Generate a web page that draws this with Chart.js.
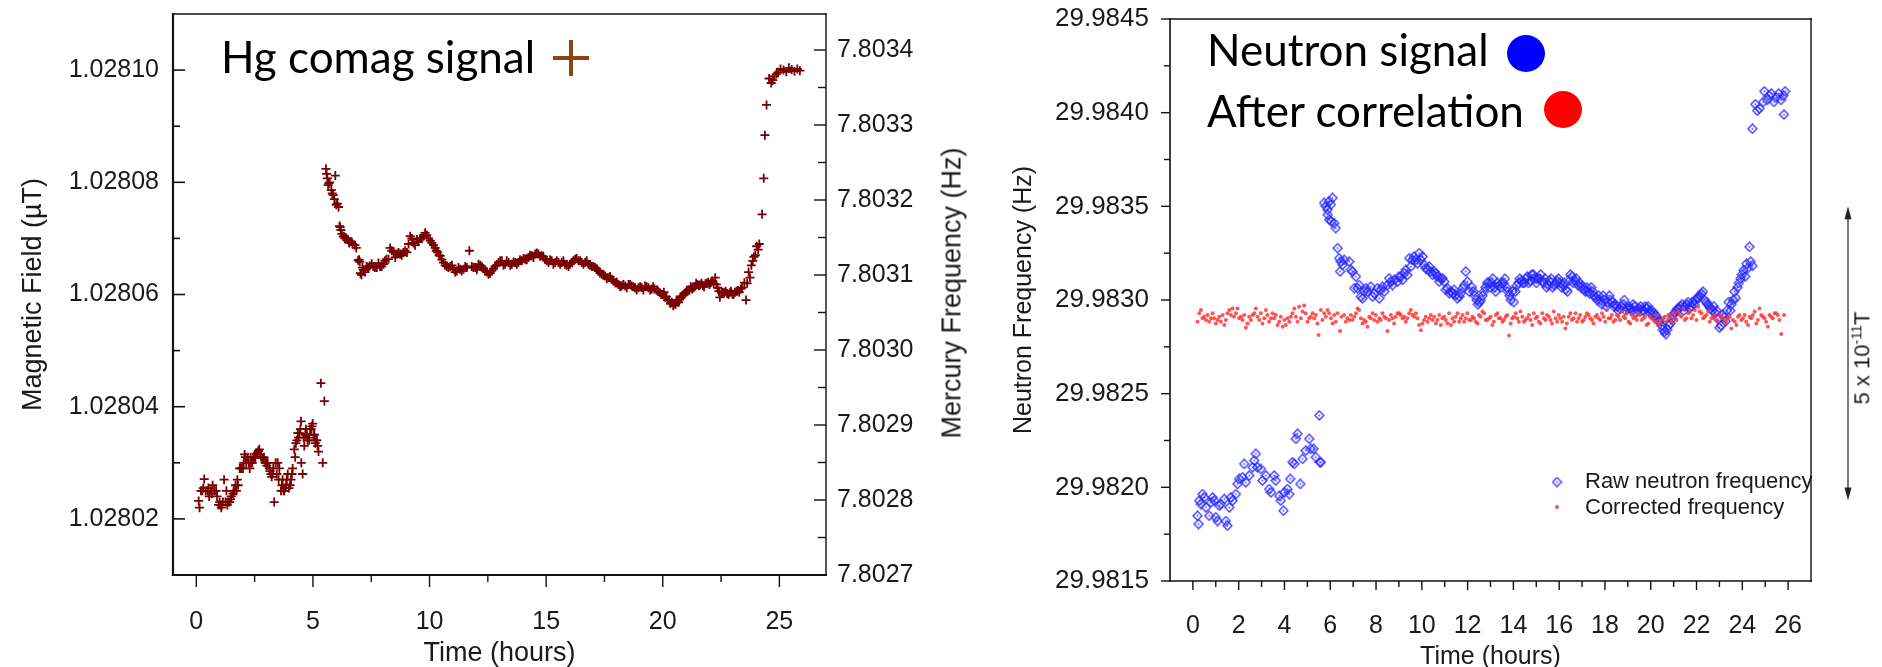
<!DOCTYPE html>
<html>
<head>
<meta charset="utf-8">
<script src="https://cdn.jsdelivr.net/npm/chart.js@4.4.1/dist/chart.umd.min.js"></script>
<style>
  html, body { margin: 0; padding: 0; background: #fff; }
  body { width: 1882px; height: 667px; position: relative; overflow: hidden; }
  canvas { position: absolute; top: 0; }
  .note { position: absolute; font-family: Lato, "Open Sans", sans-serif; font-size: 44px; line-height: 1; color: #000; white-space: nowrap; }
  .vtitle { position: absolute; font-family: "Liberation Sans", Arial, sans-serif; font-size: 27px; color: #1a1a1a; white-space: nowrap; transform: translate(-50%, -50%) rotate(-90deg); }
  .vtitle sup { font-size: 0.65em; }
  .cross { position: absolute; width: 36px; height: 36px; }
  .cross::before, .cross::after { content: ''; position: absolute; background: #8b4513; }
  .cross::before { left: 0; top: 16px; width: 36px; height: 4px; }
  .cross::after { left: 16px; top: 0; width: 4px; height: 36px; }
  .dot { position: absolute; width: 38px; height: 37px; border-radius: 50%; }
</style>
</head>
<body>
<canvas id="hg" width="1000" height="667" style="left:0"></canvas>
<canvas id="nf" width="882" height="667" style="left:1000px"></canvas>
<div class="note" style="left:221px;top:34px">Hg comag signal</div>
<div class="cross" style="left:553px;top:40px"></div>
<div class="note" style="left:1207px;top:27px">Neutron signal</div>
<div class="dot" style="left:1507px;top:35px;background:#0000ff"></div>
<div class="note" style="left:1207px;top:88px">After correlation</div>
<div class="dot" style="left:1544px;top:91px;background:#ff0000"></div>
<div class="vtitle" style="left:952px;top:293px">Mercury Frequency (Hz)</div>
<div class="vtitle" style="left:1862px;top:358px;font-size:22px">5 x 10<sup>-11</sup>T</div>
<script>
// ---- left panel: Hg co-magnetometer ----
const hgTime = [
  0.10, 0.14, 0.26, 0.34, 0.40, 0.48, 0.55, 0.62, 0.70, 0.77, 0.85, 0.89, 1.00, 1.07, 1.14, 1.19, 1.25, 1.29, 1.36, 1.43,
  1.50, 1.57, 1.64, 1.72, 1.79, 1.86, 1.93, 2.00, 2.07, 2.14, 2.20, 2.29, 2.36, 2.45, 2.50, 2.57, 2.66, 2.74, 2.84, 2.90,
  2.99, 3.06, 3.13, 3.20, 3.27, 3.34, 3.40, 3.49, 3.56, 3.63, 3.70, 3.77, 3.85, 3.92, 4.06, 4.13, 4.20, 4.27, 4.35, 4.42,
  4.49, 4.50, 4.56, 4.63, 4.70, 4.77, 4.84, 4.92, 4.99, 5.06, 5.13, 5.20, 5.34, 5.42, 5.49,
  5.56, 5.62, 5.68, 5.79, 5.87, 5.96, 6.00, 6.10, 6.17, 6.20, 6.30, 6.37, 6.51, 6.60, 6.66, 6.80, 6.94, 7.01, 7.08, 7.16,
  7.30, 7.44, 7.59, 7.74, 7.88, 8.03, 8.15, 8.24, 8.31, 8.46, 8.60, 8.74, 8.88, 9.03, 9.17, 9.31, 9.46, 9.60, 9.67, 9.81,
  9.96, 10.10, 10.24, 10.35, 10.46, 10.60, 10.74, 10.89, 11.03, 11.17, 11.31, 11.46, 11.60, 11.71, 11.81, 11.96, 12.10, 12.24, 12.39, 12.53,
  12.67, 12.81, 12.96, 13.10, 13.24, 13.39, 13.53, 13.67, 13.81, 13.96, 14.10, 14.24, 14.39, 14.53, 14.67, 14.81, 14.96, 15.10, 15.24, 15.39,
  15.53, 15.67, 15.81, 15.96, 16.10, 16.24, 16.39, 16.53, 16.67, 16.81, 16.96, 17.10, 17.24, 17.39, 17.53, 17.67, 17.81, 17.96, 18.10, 18.24,
  18.39, 18.53, 18.67, 18.81, 18.96, 19.10, 19.24, 19.39, 19.53, 19.64, 19.74, 19.87, 20.00, 20.10, 20.20, 20.33, 20.45, 20.55, 20.63, 20.72,
  20.80, 20.92, 21.03, 21.15, 21.26, 21.37, 21.49, 21.60, 21.72, 21.83, 21.95, 22.06, 22.18, 22.25, 22.35, 22.41, 22.45, 22.52, 22.64, 22.76,
  22.87, 22.98, 23.10, 23.22, 23.34, 23.50, 23.57, 23.68, 23.80, 23.91, 24.03, 24.14, 24.26, 24.33, 24.38, 24.45, 24.56, 24.65, 24.72, 24.79,
  24.87, 24.95, 25.05, 25.18, 25.30, 25.41, 25.53, 25.65, 25.77, 25.88,
  // second pass, in between the first readings
  0.20, 0.30, 0.52, 0.66, 0.95, 1.03, 1.10, 1.33, 1.47, 1.60, 1.68, 1.76, 1.90, 2.03, 2.10, 2.25, 2.33, 2.40, 2.53, 2.62,
  2.70, 2.78, 2.95, 3.02, 3.16, 3.23, 3.30, 3.45, 3.53, 3.67, 3.74, 3.81, 3.88, 3.97, 4.02, 4.10, 4.24, 4.31, 4.38, 4.46,
  4.60, 4.67, 4.74, 4.81, 4.88, 4.96, 5.03, 5.10, 5.17, 5.24,
  5.59, 5.65, 5.72, 5.83, 5.92, 6.05, 6.14, 6.24, 6.33, 6.44, 6.55, 6.70, 6.86, 6.98, 7.04, 7.12,
  7.23, 7.37, 7.52, 7.66, 7.81, 7.95, 8.09, 8.38, 8.53, 8.67, 8.81, 8.95, 9.10, 9.24, 9.38, 9.53, 9.74, 9.88, 10.03, 10.17,
  10.29, 10.41, 10.53, 10.67, 10.81, 10.96, 11.10, 11.24, 11.38, 11.53, 11.88, 12.03, 12.17, 12.31, 12.46, 12.60, 12.74, 12.88, 13.03, 13.17,
  13.31, 13.46, 13.60, 13.74, 13.88, 14.03, 14.17, 14.31, 14.46, 14.60, 14.74, 14.88, 15.03, 15.17, 15.31, 15.46, 15.60, 15.74, 15.88, 16.03,
  16.17, 16.31, 16.46, 16.60, 16.74, 16.88, 17.03, 17.17, 17.31, 17.46, 17.60, 17.74, 17.88, 18.03, 18.17, 18.31, 18.46, 18.60, 18.74, 18.88,
  19.03, 19.17, 19.31, 19.46, 19.59, 19.80, 19.94, 20.05, 20.15, 20.27, 20.39, 20.50, 20.59, 20.68, 20.76, 20.86, 20.98, 21.09, 21.20, 21.31,
  21.43, 21.55, 21.66, 21.77, 21.89, 22.00, 22.12, 22.30, 22.58, 22.70, 22.82, 22.93, 23.04, 23.16, 23.28, 23.40, 23.62, 23.74, 23.86, 23.97,
  24.09
];
const hgField = [
  1.0280232, 1.0280220, 1.0280250, 1.0280271, 1.0280250, 1.0280250, 1.0280240, 1.0280250, 1.0280260, 1.0280250,
  1.0280250, 1.0280240, 1.0280230, 1.0280220, 1.0280230, 1.0280270, 1.0280230, 1.0280250, 1.0280230, 1.0280230,
  1.0280240, 1.0280245, 1.0280250, 1.0280250, 1.0280260, 1.0280290, 1.0280290, 1.0280290, 1.0280315, 1.0280300,
  1.0280310, 1.0280290, 1.0280300, 1.0280310, 1.0280309, 1.0280315, 1.0280321, 1.0280315, 1.0280309, 1.0280310,
  1.0280300, 1.0280300, 1.0280290, 1.0280280, 1.0280280, 1.0280230, 1.0280300, 1.0280300, 1.0280290, 1.0280250,
  1.0280270, 1.0280250, 1.0280260, 1.0280280, 1.0280270, 1.0280290, 1.0280324, 1.0280335, 1.0280353, 1.0280353,
  1.0280374, 1.0280300, 1.0280280, 1.0280330, 1.0280360, 1.0280340, 1.0280340, 1.0280360, 1.0280370, 1.0280350,
  1.0280340, 1.0280330, 1.0280442, 1.0280300, 1.0280410,
  1.0280824, 1.0280807, 1.0280798, 1.0280786, 1.0280777, 1.0280812, 1.0280760, 1.0280756, 1.0280720, 1.0280715,
  1.0280703, 1.0280700, 1.0280697, 1.0280694, 1.0280694, 1.0280688, 1.0280661, 1.0280658, 1.0280635, 1.0280644,
  1.0280650, 1.0280651, 1.0280650, 1.0280648, 1.0280650, 1.0280654, 1.0280663, 1.0280663, 1.0280683, 1.0280675,
  1.0280672, 1.0280672, 1.0280675, 1.0280675, 1.0280704, 1.0280692, 1.0280698, 1.0280700, 1.0280700, 1.0280710,
  1.0280700, 1.0280692, 1.0280683, 1.0280675, 1.0280669, 1.0280657, 1.0280650, 1.0280650, 1.0280645, 1.0280642,
  1.0280645, 1.0280645, 1.0280648, 1.0280678, 1.0280650, 1.0280648, 1.0280654, 1.0280650, 1.0280642, 1.0280636,
  1.0280642, 1.0280650, 1.0280657, 1.0280660, 1.0280654, 1.0280657, 1.0280654, 1.0280657, 1.0280657, 1.0280660,
  1.0280663, 1.0280666, 1.0280669, 1.0280672, 1.0280672, 1.0280669, 1.0280663, 1.0280657, 1.0280660, 1.0280657,
  1.0280657, 1.0280657, 1.0280654, 1.0280650, 1.0280657, 1.0280663, 1.0280660, 1.0280657, 1.0280657, 1.0280654,
  1.0280650, 1.0280648, 1.0280642, 1.0280636, 1.0280633, 1.0280630, 1.0280627, 1.0280621, 1.0280618, 1.0280615,
  1.0280615, 1.0280618, 1.0280615, 1.0280612, 1.0280612, 1.0280612, 1.0280615, 1.0280612, 1.0280610, 1.0280610,
  1.0280608, 1.0280603, 1.0280600, 1.0280595, 1.0280590, 1.0280584, 1.0280580, 1.0280582, 1.0280587, 1.0280591,
  1.0280595, 1.0280600, 1.0280606, 1.0280608, 1.0280610, 1.0280614, 1.0280618, 1.0280617, 1.0280616, 1.0280619,
  1.0280622, 1.0280621, 1.0280620, 1.0280630, 1.0280612, 1.0280606, 1.0280595, 1.0280603, 1.0280603, 1.0280602,
  1.0280603, 1.0280601, 1.0280604, 1.0280607, 1.0280610, 1.0280621, 1.0280590, 1.0280640, 1.0280652, 1.0280667,
  1.0280686, 1.0280690, 1.0280743, 1.0280807, 1.0280884, 1.0280938, 1.0280985, 1.0280977, 1.0280982, 1.0280989,
  1.0280993, 1.0280996, 1.0281002, 1.0281000, 1.0280997, 1.0281004, 1.0281001, 1.0280998, 1.0281002, 1.0280999,
  // second pass
  1.0280250, 1.0280255, 1.0280255, 1.0280245, 1.0280225, 1.0280225, 1.0280225, 1.0280225, 1.0280235, 1.0280250,
  1.0280260, 1.0280270, 1.0280290, 1.0280300, 1.0280310, 1.0280300, 1.0280310, 1.0280300, 1.0280310, 1.0280318,
  1.0280324, 1.0280310, 1.0280300, 1.0280295, 1.0280285, 1.0280275, 1.0280290, 1.0280280, 1.0280270, 1.0280260,
  1.0280250, 1.0280255, 1.0280270, 1.0280255, 1.0280260, 1.0280280, 1.0280310, 1.0280340, 1.0280345, 1.0280360,
  1.0280345, 1.0280350, 1.0280350, 1.0280345, 1.0280360, 1.0280365, 1.0280350, 1.0280335, 1.0280340, 1.0280320,
  1.0280815, 1.0280795, 1.0280800, 1.0280780, 1.0280770, 1.0280762, 1.0280722, 1.0280708, 1.0280704, 1.0280700,
  1.0280692, 1.0280690, 1.0280683, 1.0280662, 1.0280638, 1.0280648,
  1.0280640, 1.0280648, 1.0280655, 1.0280648, 1.0280656, 1.0280650, 1.0280660, 1.0280678, 1.0280666, 1.0280675,
  1.0280670, 1.0280678, 1.0280690, 1.0280700, 1.0280688, 1.0280694, 1.0280704, 1.0280706, 1.0280696, 1.0280688,
  1.0280678, 1.0280670, 1.0280662, 1.0280652, 1.0280648, 1.0280652, 1.0280640, 1.0280648, 1.0280642, 1.0280650,
  1.0280648, 1.0280644, 1.0280652, 1.0280646, 1.0280640, 1.0280638, 1.0280646, 1.0280652, 1.0280660, 1.0280652,
  1.0280660, 1.0280652, 1.0280658, 1.0280654, 1.0280662, 1.0280664, 1.0280662, 1.0280670, 1.0280666, 1.0280674,
  1.0280668, 1.0280668, 1.0280660, 1.0280662, 1.0280654, 1.0280660, 1.0280654, 1.0280660, 1.0280652, 1.0280654,
  1.0280660, 1.0280664, 1.0280660, 1.0280654, 1.0280660, 1.0280652, 1.0280650, 1.0280646, 1.0280638, 1.0280636,
  1.0280628, 1.0280632, 1.0280624, 1.0280622, 1.0280614, 1.0280618, 1.0280612, 1.0280618, 1.0280614, 1.0280608,
  1.0280614, 1.0280608, 1.0280614, 1.0280608, 1.0280614, 1.0280606, 1.0280600, 1.0280604, 1.0280596, 1.0280590,
  1.0280586, 1.0280584, 1.0280590, 1.0280586, 1.0280596, 1.0280598, 1.0280604, 1.0280608, 1.0280614, 1.0280612,
  1.0280620, 1.0280616, 1.0280620, 1.0280614, 1.0280620, 1.0280618, 1.0280624, 1.0280618, 1.0280604, 1.0280606,
  1.0280600, 1.0280606, 1.0280600, 1.0280606, 1.0280604, 1.0280612, 1.0280620, 1.0280630, 1.0280660, 1.0280670,
  1.0280680
];
const hgTimeTicks = [0, 5, 10, 15, 20, 25];
const hgTimeMinor = [2.5, 7.5, 12.5, 17.5, 22.5];
const fieldTicks = [1.02802, 1.02804, 1.02806, 1.02808, 1.02810];
const fieldMinor = [1.02803, 1.02805, 1.02807, 1.02809];
const mercuryTicks = [7.8027, 7.8028, 7.8029, 7.8030, 7.8031, 7.8032, 7.8033, 7.8034];
const mercuryMinor = [7.80275, 7.80285, 7.80295, 7.80305, 7.80315, 7.80325, 7.80335];

// ---- right panel: neutron frequency ----
const rawTime = [
  0.20, 0.25, 0.28, 0.35, 0.42, 0.49, 0.57, 0.71, 0.79, 0.86, 0.93, 1.00, 1.08, 1.15, 1.22, 1.37, 1.44, 1.51, 1.59, 1.66,
  1.73, 1.88, 1.95, 2.02, 2.17, 2.24, 2.31, 2.46, 2.61, 2.68, 2.75, 2.82, 2.97, 3.04, 3.19, 3.33, 3.41, 3.55, 3.62, 3.77,
  3.84, 3.96, 3.99, 4.13, 4.21, 4.25, 4.35, 4.43, 4.50, 4.57, 4.69, 4.79, 4.93, 5.08, 5.15, 5.27, 5.37, 5.52, 5.55, 5.59,
  5.73, 5.81, 5.88, 5.89, 5.95, 5.96, 6.03, 6.04, 6.10, 6.17, 6.24, 6.32, 6.39, 6.43, 6.46, 6.54, 6.61, 6.83, 6.90, 6.97,
  7.05, 7.12, 7.19, 7.26, 7.34, 7.41, 7.48, 7.56, 7.63, 7.77, 7.85, 7.92, 8.06, 8.14, 8.21, 8.28, 8.36, 8.50, 8.57, 8.65,
  8.72, 8.79, 8.94, 9.00, 9.08, 9.15, 9.23, 9.30, 9.37, 9.45, 9.52, 9.59, 9.66, 9.74, 9.81, 9.88, 9.95, 10.03, 10.10, 10.17,
  10.25, 10.32, 10.39, 10.47, 10.54, 10.61, 10.68, 10.76, 10.83, 10.90, 10.98, 11.05, 11.12, 11.20, 11.27, 11.35, 11.41, 11.48, 11.55, 11.63,
  11.70, 11.78, 11.85, 11.92, 11.99, 12.07, 12.19, 12.32, 12.45, 12.58, 12.71, 12.85, 12.98, 13.10, 13.23, 13.37, 13.50, 13.63, 13.76, 13.89,
  14.02, 14.15, 14.28, 14.41, 14.54, 14.67, 14.80, 14.93, 15.06, 15.19, 15.32, 15.45, 15.58, 15.71, 15.84, 15.97, 16.10, 16.23, 16.36, 16.49,
  16.62, 16.75, 16.88, 17.01, 17.14, 17.27, 17.40, 17.53, 17.66, 17.79, 17.92, 18.06, 18.19, 18.32, 18.45, 18.58, 18.71, 18.84, 18.97, 19.10,
  19.23, 19.36, 19.49, 19.62, 19.75, 19.88, 20.01, 20.14, 20.27, 20.40, 20.53, 20.66, 20.79, 20.92, 21.05, 21.18, 21.31, 21.44, 21.57, 21.70,
  21.83, 21.96, 22.09, 22.22, 22.35, 22.48, 22.62, 22.75, 22.88, 23.00, 23.14, 23.27, 23.40, 23.47, 23.53, 23.66, 23.72, 23.79, 23.92, 23.98,
  24.05, 24.12, 24.18, 24.24, 24.31, 24.37, 24.44, 24.44, 24.57, 24.65, 24.75, 24.91, 24.96, 25.09, 25.17, 25.27, 25.38, 25.48, 25.59, 25.69,
  25.79, 25.82, 25.87,
  // second pass through the 12-24 h band
  12.26, 12.39, 12.52, 12.65, 12.78, 12.92, 13.04, 13.17, 13.30, 13.44, 13.57, 13.70, 13.83, 13.96, 14.09, 14.22, 14.35, 14.48, 14.61, 14.74,
  14.87, 15.00, 15.13, 15.26, 15.39, 15.52, 15.65, 15.78, 15.91, 16.04, 16.17, 16.30, 16.43, 16.56, 16.69, 16.82, 16.95, 17.08, 17.21, 17.34,
  17.47, 17.60, 17.73, 17.86, 17.99, 18.12, 18.26, 18.39, 18.52, 18.65, 18.78, 18.91, 19.04, 19.17, 19.30, 19.43, 19.56, 19.69, 19.82, 19.95,
  20.08, 20.21, 20.34, 20.47, 20.60, 20.72, 20.86, 20.98, 21.11, 21.24, 21.37, 21.50, 21.63, 21.76, 21.89, 22.02, 22.15, 22.28, 22.42, 22.55,
  22.68, 22.81, 22.94, 23.07, 23.20, 23.33, 23.60, 23.85
];
const rawFreq = [
  29.981848, 29.981804, 29.981929, 29.981911, 29.981964, 29.981946, 29.981893, 29.981848, 29.981920, 29.981946,
  29.981929, 29.981840, 29.981820, 29.981902, 29.981911, 29.981938, 29.981820, 29.981795, 29.981893, 29.981946,
  29.981929, 29.981964, 29.982018, 29.982045, 29.982054, 29.982125, 29.982027, 29.982063, 29.982107, 29.982143,
  29.982179, 29.982107, 29.982098, 29.982036, 29.982063, 29.981991, 29.981973, 29.982063, 29.982036, 29.981955,
  29.981929, 29.981875, 29.981973, 29.981991, 29.981964, 29.982045, 29.982134, 29.982125, 29.982259, 29.982286,
  29.982018, 29.982152, 29.982196, 29.982259, 29.982205, 29.982205, 29.982161, 29.982384, 29.982134, 29.982134,
  29.983518, 29.983500, 29.983482, 29.983455, 29.983527, 29.983429, 29.983509, 29.983420, 29.983545, 29.983411,
  29.983384, 29.983277, 29.983223, 29.983152, 29.983205, 29.983188, 29.983214, 29.983205, 29.983161, 29.983152,
  29.983063, 29.983125, 29.983063, 29.983080, 29.983018, 29.983009, 29.983045, 29.983063, 29.983045, 29.983071,
  29.983018, 29.983036, 29.983063, 29.983009, 29.983054, 29.983071, 29.983045, 29.983080, 29.983116, 29.983098,
  29.983080, 29.983107, 29.983098, 29.983125, 29.983125, 29.983107, 29.983143, 29.983161, 29.983134, 29.983223,
  29.983179, 29.983214, 29.983232, 29.983214, 29.983196, 29.983250, 29.983214, 29.983232, 29.983188, 29.983170,
  29.983161, 29.983179, 29.983152, 29.983134, 29.983152, 29.983143, 29.983125, 29.983098, 29.983116, 29.983116,
  29.983098, 29.983054, 29.983063, 29.983036, 29.983045, 29.983036, 29.983054, 29.983027, 29.983009, 29.983018,
  29.983036, 29.983063, 29.983080, 29.983152, 29.983098, 29.983045, 29.983068, 29.983023, 29.982977, 29.983000,
  29.983045, 29.983091, 29.983068, 29.983114, 29.983045, 29.983077, 29.983091, 29.983114, 29.983045, 29.983000,
  29.982989, 29.983077, 29.983114, 29.983091, 29.983114, 29.983091, 29.983136, 29.983114, 29.983114, 29.983136,
  29.983091, 29.983068, 29.983102, 29.983068, 29.983091, 29.983114, 29.983068, 29.983091, 29.983045, 29.983136,
  29.983091, 29.983114, 29.983091, 29.983077, 29.983045, 29.983045, 29.983068, 29.983023, 29.983000, 29.983000,
  29.983023, 29.982966, 29.983023, 29.982989, 29.982977, 29.982943, 29.982966, 29.983000, 29.982955, 29.982955,
  29.982977, 29.982932, 29.982955, 29.982943, 29.982966, 29.982966, 29.982943, 29.982932, 29.982909, 29.982886,
  29.982841, 29.982818, 29.982864, 29.982898, 29.982932, 29.982955, 29.982966, 29.982943, 29.982977, 29.982955,
  29.982989, 29.983000, 29.983011, 29.983034, 29.983000, 29.982977, 29.982955, 29.982966, 29.982943, 29.982852,
  29.982920, 29.982886, 29.982989, 29.982943, 29.982977, 29.983045, 29.983011, 29.983068, 29.983114, 29.983136,
  29.983159, 29.983125, 29.983193, 29.983170, 29.983284, 29.983205, 29.983182, 29.983914, 29.984045, 29.984011,
  29.984023, 29.984057, 29.984114, 29.984068, 29.984091, 29.984102, 29.984057, 29.984080, 29.984102, 29.984068,
  29.984091, 29.983990, 29.984114,
  // second pass
  29.983045, 29.983000, 29.982989, 29.983023, 29.983068, 29.983091, 29.983091, 29.983068, 29.983091, 29.983068,
  29.983091, 29.983068, 29.983023, 29.983045, 29.983045, 29.983091, 29.983102, 29.983091, 29.983125, 29.983102,
  29.983136, 29.983091, 29.983114, 29.983102, 29.983114, 29.983080, 29.983114, 29.983080, 29.983102, 29.983091,
  29.983080, 29.983057, 29.983102, 29.983125, 29.983102, 29.983080, 29.983068, 29.983057, 29.983068, 29.983034,
  29.983045, 29.983011, 29.983023, 29.982977, 29.983000, 29.982989, 29.983000, 29.982966, 29.982966, 29.982955,
  29.982977, 29.982943, 29.982966, 29.982943, 29.982966, 29.982943, 29.982966, 29.982943, 29.982955, 29.982932,
  29.982920, 29.982920, 29.982886, 29.982864, 29.982830, 29.982841, 29.982875, 29.982920, 29.982943, 29.982955,
  29.982977, 29.982966, 29.982989, 29.982966, 29.982977, 29.983011, 29.983023, 29.983045, 29.982989, 29.982966,
  29.982943, 29.982932, 29.982898, 29.982864, 29.982909, 29.982943, 29.983000, 29.983091
];
const corrTime = [
  0.20, 0.28, 0.35, 0.42, 0.49, 0.57, 0.64, 0.71, 0.79, 0.86, 0.93, 1.00, 1.08, 1.15, 1.22, 1.30, 1.37, 1.44, 1.51, 1.59,
  1.66, 1.73, 1.80, 1.88, 1.95, 2.02, 2.10, 2.17, 2.24, 2.31, 2.39, 2.46, 2.53, 2.61, 2.68, 2.75, 2.82, 2.90, 2.97, 3.04,
  3.12, 3.19, 3.26, 3.33, 3.41, 3.48, 3.55, 3.62, 3.70, 3.77, 3.84, 3.92, 3.99, 4.06, 4.13, 4.21, 4.28, 4.35, 4.43, 4.50,
  4.57, 4.64, 4.72, 4.79, 4.86, 4.93, 5.01, 5.08, 5.15, 5.23, 5.30, 5.37, 5.44, 5.49, 5.59, 5.66, 5.74, 5.81, 5.88, 5.95,
  6.03, 6.10, 6.17, 6.24, 6.32, 6.43, 6.49, 6.61, 6.68, 6.75, 6.83, 6.90, 6.97, 7.05, 7.12, 7.19, 7.26, 7.34, 7.41, 7.48,
  7.55, 7.63, 7.70, 7.77, 7.85, 7.92, 7.99, 8.06, 8.14, 8.21, 8.28, 8.36, 8.43, 8.50, 8.57, 8.65, 8.72, 8.79, 8.86, 8.94,
  9.01, 9.08, 9.16, 9.23, 9.30, 9.37, 9.45, 9.52, 9.59, 9.67, 9.74, 9.81, 9.88, 9.96, 10.03, 10.10, 10.17, 10.25, 10.32, 10.39,
  10.47, 10.54, 10.61, 10.68, 10.76, 10.83, 10.90, 10.98, 11.05, 11.12, 11.19, 11.27, 11.34, 11.41, 11.48, 11.56, 11.63, 11.70, 11.78, 11.85,
  11.92, 11.99, 12.07, 12.21, 12.36, 12.50, 12.65, 12.79, 12.94, 13.08, 13.23, 13.37, 13.52, 13.66, 13.81, 13.95, 14.10, 14.24, 14.39, 14.53,
  14.68, 14.82, 14.97, 15.11, 15.26, 15.40, 15.55, 15.69, 15.84, 15.98, 16.13, 16.27, 16.42, 16.56, 16.71, 16.85, 17.00, 17.14, 17.29, 17.43,
  17.58, 17.72, 17.87, 18.01, 18.16, 18.30, 18.45, 18.59, 18.74, 18.88, 19.03, 19.17, 19.32, 19.46, 19.61, 19.75, 19.90, 20.04, 20.19, 20.33,
  20.48, 20.62, 20.77, 20.91, 21.06, 21.20, 21.35, 21.49, 21.64, 21.78, 21.93, 22.07, 22.22, 22.36, 22.51, 22.65, 22.80, 22.94, 23.09, 23.23,
  23.38, 23.52, 23.67, 23.81, 23.96, 24.10, 24.25, 24.39, 24.54, 24.68, 24.83, 24.97, 25.12, 25.26, 25.41, 25.55, 25.70, 25.82,
  // second pass, 12-26 h
  12.14, 12.28, 12.43, 12.57, 12.72, 12.86, 13.01, 13.15, 13.30, 13.44, 13.59, 13.73, 13.88, 14.02, 14.17, 14.31, 14.46, 14.60, 14.75, 14.89,
  15.04, 15.18, 15.33, 15.47, 15.62, 15.76, 15.91, 16.05, 16.20, 16.34, 16.49, 16.63, 16.78, 16.92, 17.07, 17.21, 17.36, 17.50, 17.65, 17.79,
  17.94, 18.08, 18.23, 18.37, 18.52, 18.66, 18.81, 18.95, 19.10, 19.24, 19.39, 19.53, 19.68, 19.82, 19.97, 20.11, 20.26, 20.40, 20.55, 20.69,
  20.84, 20.98, 21.13, 21.27, 21.42, 21.56, 21.71, 21.85, 22.00, 22.14, 22.29, 22.43, 22.58, 22.72, 22.87, 23.01, 23.16, 23.30, 23.45, 23.59,
  23.74, 23.88, 24.03, 24.17, 24.32, 24.46, 24.61, 24.75, 24.90, 25.04, 25.19, 25.33, 25.48, 25.62, 25.76
];
const corrFreq = [
  29.982884, 29.982929, 29.982946, 29.982902, 29.982911, 29.982893, 29.982920, 29.982884, 29.982902, 29.982929,
  29.982902, 29.982875, 29.982893, 29.982911, 29.982884, 29.982920, 29.982866, 29.982893, 29.982929, 29.982946,
  29.982920, 29.982955, 29.982911, 29.982929, 29.982955, 29.982902, 29.982911, 29.982893, 29.982920, 29.982852,
  29.982875, 29.982911, 29.982893, 29.982920, 29.982929, 29.982955, 29.982911, 29.982893, 29.982929, 29.982875,
  29.982902, 29.982946, 29.982920, 29.982884, 29.982902, 29.982929, 29.982902, 29.982920, 29.982866, 29.982884,
  29.982911, 29.982857, 29.982893, 29.982866, 29.982902, 29.982884, 29.982911, 29.982929, 29.982955, 29.982911,
  29.982884, 29.982964, 29.982902, 29.982938, 29.982970, 29.982929, 29.982884, 29.982902, 29.982911, 29.982929,
  29.982902, 29.982920, 29.982875, 29.982813, 29.982946, 29.982893, 29.982929, 29.982911, 29.982946, 29.982929,
  29.982902, 29.982875, 29.982920, 29.982884, 29.982929, 29.982834, 29.982911, 29.982920, 29.982884, 29.982902,
  29.982893, 29.982920, 29.982893, 29.982911, 29.982929, 29.982955, 29.982946, 29.982902, 29.982875, 29.982893,
  29.982884, 29.982857, 29.982911, 29.982902, 29.982929, 29.982893, 29.982920, 29.982884, 29.982902, 29.982893,
  29.982929, 29.982911, 29.982902, 29.982834, 29.982893, 29.982920, 29.982902, 29.982875, 29.982911, 29.982929,
  29.982929, 29.982920, 29.982902, 29.982911, 29.982884, 29.982902, 29.982929, 29.982946, 29.982920, 29.982911,
  29.982929, 29.982902, 29.982866, 29.982839, 29.982875, 29.982893, 29.982911, 29.982884, 29.982902, 29.982920,
  29.982893, 29.982911, 29.982875, 29.982893, 29.982920, 29.982866, 29.982902, 29.982911, 29.982893, 29.982875,
  29.982929, 29.982866, 29.982902, 29.982884, 29.982911, 29.982929, 29.982884, 29.982902, 29.982920, 29.982884,
  29.982902, 29.982929, 29.982893, 29.982911, 29.982884, 29.982920, 29.982938, 29.982893, 29.982902, 29.982866,
  29.982920, 29.982902, 29.982884, 29.982911, 29.982810, 29.982902, 29.982929, 29.982884, 29.982911, 29.982893,
  29.982920, 29.982866, 29.982902, 29.982884, 29.982929, 29.982893, 29.982911, 29.982875, 29.982902, 29.982920,
  29.982884, 29.982848, 29.982911, 29.982893, 29.982929, 29.982902, 29.982884, 29.982911, 29.982920, 29.982893,
  29.982911, 29.982902, 29.982929, 29.982884, 29.982902, 29.982920, 29.982893, 29.982911, 29.982938, 29.982902,
  29.982884, 29.982920, 29.982911, 29.982929, 29.982893, 29.982911, 29.982875, 29.982902, 29.982884, 29.982866,
  29.982893, 29.982911, 29.982920, 29.982884, 29.982902, 29.982938, 29.982911, 29.982893, 29.982929, 29.982902,
  29.982946, 29.982964, 29.982929, 29.982911, 29.982938, 29.982902, 29.982920, 29.982884, 29.982911, 29.982875,
  29.982902, 29.982848, 29.982884, 29.982911, 29.982893, 29.982920, 29.982866, 29.982902, 29.982938, 29.982893,
  29.982920, 29.982902, 29.982857, 29.982911, 29.982929, 29.982920, 29.982818,
  // second pass
  29.982920, 29.982893, 29.982902, 29.982875, 29.982911, 29.982929, 29.982893, 29.982911, 29.982884, 29.982929,
  29.982902, 29.982893, 29.982920, 29.982875, 29.982911, 29.982902, 29.982938, 29.982884, 29.982902, 29.982893,
  29.982929, 29.982911, 29.982875, 29.982902, 29.982920, 29.982893, 29.982938, 29.982884, 29.982902, 29.982911,
  29.982875, 29.982929, 29.982902, 29.982884, 29.982920, 29.982893, 29.982929, 29.982902, 29.982875, 29.982920,
  29.982893, 29.982911, 29.982946, 29.982902, 29.982884, 29.982920, 29.982893, 29.982911, 29.982929, 29.982875,
  29.982902, 29.982893, 29.982920, 29.982902, 29.982866, 29.982911, 29.982893, 29.982920, 29.982875, 29.982902,
  29.982884, 29.982911, 29.982929, 29.982893, 29.982920, 29.982955, 29.982902, 29.982938, 29.982920, 29.982893,
  29.982938, 29.982902, 29.982920, 29.982884, 29.982911, 29.982893, 29.982920, 29.982902, 29.982884, 29.982911,
  29.982893, 29.982866, 29.982920, 29.982902, 29.982884, 29.982911, 29.982920, 29.982875, 29.982955, 29.982911,
  29.982884, 29.982920, 29.982902, 29.982929, 29.982893
];
const nTimeTicks = [0, 2, 4, 6, 8, 10, 12, 14, 16, 18, 20, 22, 24, 26];
const nTimeMinor = [1, 3, 5, 7, 9, 11, 13, 15, 17, 19, 21, 23, 25];
const nFreqTicks = [29.9815, 29.9820, 29.9825, 29.9830, 29.9835, 29.9840, 29.9845];
const nFreqMinor = [29.98175, 29.98225, 29.98275, 29.98325, 29.98375, 29.98425];
// vertical extent of the 5 x 10^-11 T arrow, in neutron-frequency units
const arrowSpan = [29.98193, 29.98350];

Chart.defaults.font.family = '"Liberation Sans", Arial, sans-serif';
Chart.defaults.color = '#1a1a1a';

const ink = '#111';
const setTicks = vals => s => { s.ticks = vals.map(v => ({ value: v })); };
// fixed box size, and no extra room reserved for overhanging labels
const fixWidth = w => s => { s.width = w; s.paddingTop = 0; s.paddingBottom = 0; };
const fixHeight = h => s => { s.height = h; s.paddingLeft = 0; s.paddingRight = 0; };

// frame around the plot area plus hand-placed tick marks (some point inward)
const axisMarks = {
  id: 'axisMarks',
  afterDraw(chart, args, opts) {
    const { ctx, chartArea: a } = chart;
    ctx.save();
    ctx.strokeStyle = ink;
    const f = opts.frame;
    const seg = (x1, y1, x2, y2, w) => {
      ctx.lineWidth = w;
      ctx.beginPath(); ctx.moveTo(x1, y1); ctx.lineTo(x2, y2); ctx.stroke();
    };
    seg(a.left, a.top - f.top / 2, a.left, a.bottom + f.bottom / 2, f.left);
    seg(a.right, a.top - f.top / 2, a.right, a.bottom + f.bottom / 2, f.right);
    seg(a.left - f.left / 2, a.top, a.right + f.right / 2, a.top, f.top);
    seg(a.left - f.left / 2, a.bottom, a.right + f.right / 2, a.bottom, f.bottom);
    for (const m of opts.marks) {
      const s = chart.scales[m.axis];
      for (const v of m.values) {
        const p = s.getPixelForValue(v);
        if (m.side === 'bottom') seg(p, a.bottom, p, a.bottom + m.len, m.w);
        else if (m.side === 'left') seg(a.left, p, a.left - m.len, p, m.w);
        else seg(a.right, p, a.right + m.len, p, m.w);
      }
    }
    ctx.restore();
  }
};

new Chart(document.getElementById('hg'), {
  type: 'scatter',
  data: {
    datasets: [{
      label: 'Hg comag signal',
      data: hgTime.map((t, i) => ({ x: t, y: hgField[i] })),
      pointStyle: 'cross',
      pointRadius: 4.5,
      borderWidth: 1.8,
      borderColor: '#780000',
      backgroundColor: '#780000'
    }]
  },
  options: {
    responsive: false,
    animation: false,
    events: [],
    layout: { padding: { top: 14, left: 0, right: 0, bottom: 0 } },
    plugins: {
      legend: { display: false },
      tooltip: { enabled: false },
      axisMarks: {
        frame: { left: 2.2, bottom: 2.2, right: 1.4, top: 1.4 },
        marks: [
          { axis: 'x', side: 'bottom', values: hgTimeTicks, len: 12, w: 1.4 },
          { axis: 'x', side: 'bottom', values: hgTimeMinor, len: 7, w: 1.4 },
          { axis: 'y', side: 'left', values: fieldTicks, len: -12, w: 1.6 },
          { axis: 'y', side: 'left', values: fieldMinor, len: -7, w: 1.6 },
          { axis: 'y2', side: 'right', values: mercuryTicks, len: -12, w: 1.4 },
          { axis: 'y2', side: 'right', values: mercuryMinor, len: -8, w: 1.4 }
        ]
      }
    },
    scales: {
      x: {
        type: 'linear', position: 'bottom', min: -1, max: 27,
        afterBuildTicks: setTicks(hgTimeTicks),
        afterFit: fixHeight(92),
        grid: { display: false, drawTicks: false }, border: { display: false },
        ticks: { padding: 32, font: { size: 25 }, maxRotation: 0, autoSkip: false, callback: v => String(v) },
        title: { display: true, text: 'Time (hours)', font: { size: 27, lineHeight: 1 }, padding: { top: 0, bottom: 0 } }
      },
      y: {
        type: 'linear', position: 'left', min: 1.02801, max: 1.02811,
        afterBuildTicks: setTicks(fieldTicks),
        afterFit: fixWidth(173),
        grid: { display: false, drawTicks: false }, border: { display: false },
        ticks: { padding: 14, font: { size: 25 }, autoSkip: false, callback: v => v.toFixed(5) },
        title: { display: true, text: 'Magnetic Field (µT)', font: { size: 27, lineHeight: 1 }, padding: { top: 20, bottom: 0 } }
      },
      y2: {
        type: 'linear', position: 'right', min: 7.8027, max: 7.803448,
        afterBuildTicks: setTicks(mercuryTicks),
        afterFit: fixWidth(174),
        grid: { display: false, drawTicks: false }, border: { display: false },
        ticks: { padding: 11, font: { size: 25 }, autoSkip: false, callback: v => v.toFixed(4) }
      }
    }
  },
  plugins: [axisMarks]
});

// small diamond-with-dot marker for the raw neutron points
function diamondMarker() {
  const c = document.createElement('canvas');
  c.width = 11; c.height = 11;
  const g = c.getContext('2d');
  g.strokeStyle = 'rgba(35,35,255,0.9)';
  g.fillStyle = 'rgba(35,35,255,0.9)';
  g.lineWidth = 1.3;
  g.beginPath(); g.moveTo(5.5, 1); g.lineTo(10, 5.5); g.lineTo(5.5, 10); g.lineTo(1, 5.5); g.closePath(); g.stroke();
  g.fillRect(4.7, 4.7, 1.6, 1.6);
  return c;
}
const diamond = diamondMarker();

const neutronExtras = {
  id: 'neutronExtras',
  afterDraw(chart) {
    const { ctx, chartArea: a, scales } = chart;
    ctx.save();
    // legend inside the plot
    const lx = a.right - 254;
    ctx.drawImage(diamond, lx - 5.5, 482 - 5.5);
    ctx.fillStyle = 'rgba(255,60,60,0.9)';
    ctx.beginPath(); ctx.arc(lx, 507, 2, 0, Math.PI * 2); ctx.fill();
    ctx.fillStyle = '#1a1a1a';
    ctx.font = '22px "Liberation Sans", Arial, sans-serif';
    ctx.textBaseline = 'middle';
    ctx.fillText('Raw neutron frequency', a.right - 226, 482);
    ctx.fillText('Corrected frequency', a.right - 226, 508);
    // double arrow for the 5 x 10^-11 T scale
    const ax = a.right + 37;
    const y1 = scales.y.getPixelForValue(arrowSpan[1]);
    const y2 = scales.y.getPixelForValue(arrowSpan[0]);
    ctx.strokeStyle = '#222'; ctx.fillStyle = '#222'; ctx.lineWidth = 1.2;
    ctx.beginPath(); ctx.moveTo(ax, y1 + 8); ctx.lineTo(ax, y2 - 8); ctx.stroke();
    ctx.beginPath(); ctx.moveTo(ax, y1); ctx.lineTo(ax - 3.5, y1 + 13); ctx.lineTo(ax + 3.5, y1 + 13); ctx.closePath(); ctx.fill();
    ctx.beginPath(); ctx.moveTo(ax, y2); ctx.lineTo(ax - 3.5, y2 - 13); ctx.lineTo(ax + 3.5, y2 - 13); ctx.closePath(); ctx.fill();
    ctx.restore();
  }
};

new Chart(document.getElementById('nf'), {
  type: 'scatter',
  data: {
    datasets: [{
      label: 'Corrected frequency',
      data: corrTime.map((t, i) => ({ x: t, y: corrFreq[i] })),
      pointStyle: 'circle',
      pointRadius: 2,
      borderWidth: 0,
      backgroundColor: 'rgba(255,55,55,0.85)'
    }, {
      label: 'Raw neutron frequency',
      data: rawTime.map((t, i) => ({ x: t, y: rawFreq[i] })),
      pointStyle: diamond,
      pointRadius: 5
    }]
  },
  options: {
    responsive: false,
    animation: false,
    events: [],
    layout: { padding: { top: 19, left: 0, right: 71, bottom: 0 } },
    plugins: {
      legend: { display: false },
      tooltip: { enabled: false },
      axisMarks: {
        frame: { left: 1.6, bottom: 1.6, right: 1.4, top: 1.4 },
        marks: [
          { axis: 'x', side: 'bottom', values: nTimeTicks, len: 9, w: 1.4 },
          { axis: 'x', side: 'bottom', values: nTimeMinor, len: 6, w: 1.4 },
          { axis: 'y', side: 'left', values: nFreqTicks, len: 9, w: 1.4 },
          { axis: 'y', side: 'left', values: nFreqMinor, len: 6, w: 1.4 }
        ]
      }
    },
    scales: {
      x: {
        type: 'linear', position: 'bottom', min: -1, max: 27,
        afterBuildTicks: setTicks(nTimeTicks),
        afterFit: fixHeight(86),
        grid: { display: false, drawTicks: false }, border: { display: false },
        ticks: { padding: 30, font: { size: 25 }, maxRotation: 0, autoSkip: false, callback: v => String(v) },
        title: { display: true, text: 'Time (hours)', font: { size: 25, lineHeight: 0.8 }, padding: { top: 0, bottom: 0 } }
      },
      y: {
        type: 'linear', position: 'left', min: 29.9815, max: 29.9845,
        afterBuildTicks: setTicks(nFreqTicks),
        afterFit: fixWidth(170),
        grid: { display: false, drawTicks: false }, border: { display: false },
        ticks: { padding: 21, font: { size: 26 }, autoSkip: false, callback: v => v.toFixed(4) },
        title: { display: true, text: 'Neutron Frequency (Hz)', font: { size: 25, lineHeight: 1 }, padding: { top: 11.5, bottom: 0 } }
      }
    }
  },
  plugins: [axisMarks, neutronExtras]
});
</script>
</body>
</html>
